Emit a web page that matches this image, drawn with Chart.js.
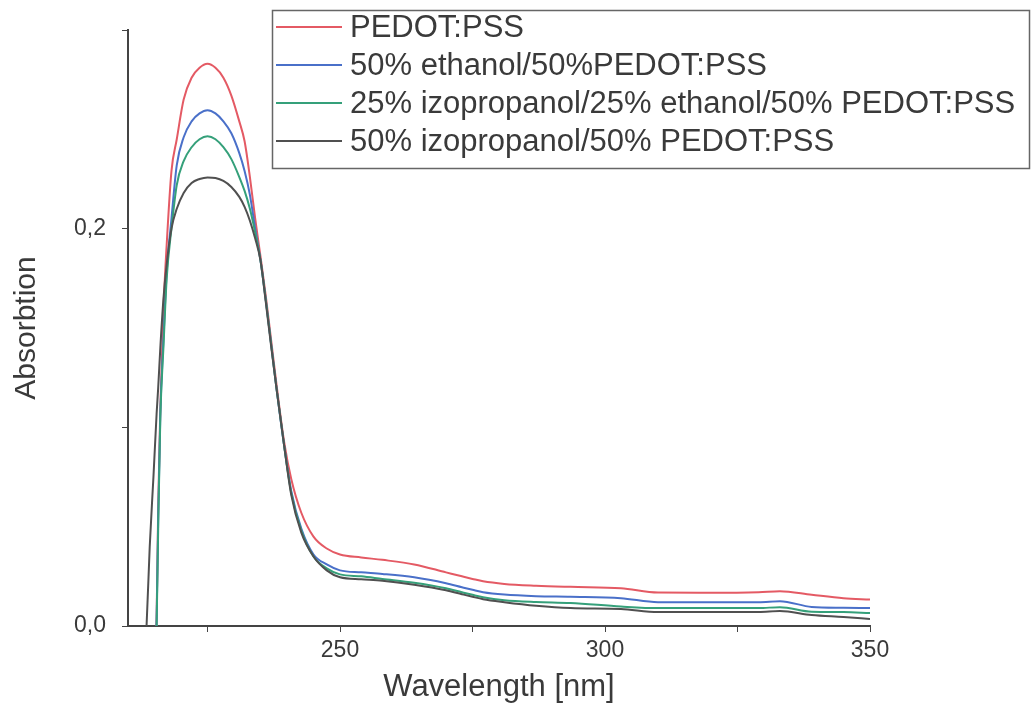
<!DOCTYPE html>
<html>
<head>
<meta charset="utf-8">
<title>Absorbtion spectra</title>
<script src="https://cdn.jsdelivr.net/npm/chart.js@4.4.1/dist/chart.umd.min.js"></script>
<style>
    html, body { margin: 0; padding: 0; background: #ffffff; }
    #wrap { width: 1033px; height: 720px; }
</style>
</head>
<body>
<div id="wrap"><canvas id="specChart"></canvas></div>
<script>
// 📊 Data
const wavelength = [212, 213.5, 214.1, 214.8, 215.4, 215.7, 216.1, 216.7, 217.3, 218.2,
    219.2, 220.5, 222, 223.5, 225, 226.5, 228, 229.5, 231, 232,
    233, 234, 235, 236, 237, 238, 239.5, 240.8, 242.7, 245,
    247.5, 250, 254, 258, 264, 270, 273, 275, 277, 281,
    287, 293.5, 303, 310, 320, 329, 333, 339, 345, 350];

const seriesNames = [
    "PEDOT:PSS",
    "50% ethanol/50%PEDOT:PSS",
    "25% izopropanol/25% ethanol/50% PEDOT:PSS",
    "50% izopropanol/50% PEDOT:PSS"
];

const pedotPss = [-0.3, -0.15, -0.1, -0.04, 0.005, 0.06, 0.11, 0.16, 0.192, 0.229,
    0.245, 0.265, 0.276, 0.281, 0.283, 0.281, 0.276, 0.267, 0.254, 0.244,
    0.226, 0.205, 0.186, 0.166, 0.144, 0.122, 0.092, 0.074, 0.057, 0.045,
    0.039, 0.036, 0.0345, 0.0333, 0.031, 0.027, 0.025, 0.0237, 0.0225, 0.0212,
    0.0203, 0.0197, 0.019, 0.0168, 0.0167, 0.017, 0.0175, 0.0157, 0.014, 0.0133];

const ethanol50 = [-0.3, -0.15, -0.1, -0.04, 0.003, 0.055, 0.107, 0.145, 0.178, 0.205,
    0.232, 0.246, 0.254, 0.258, 0.2596, 0.258, 0.254, 0.248, 0.238, 0.229,
    0.217, 0.2, 0.184, 0.164, 0.142, 0.12, 0.09, 0.068, 0.049, 0.036,
    0.031, 0.028, 0.027, 0.0262, 0.0245, 0.0215, 0.0195, 0.0182, 0.017, 0.0158,
    0.015, 0.0147, 0.014, 0.012, 0.012, 0.012, 0.0125, 0.0096, 0.0092, 0.009];

const mixed25 = [-0.3, -0.15, -0.1, -0.04, 0, 0.05, 0.105, 0.141, 0.175, 0.2,
    0.222, 0.234, 0.241, 0.245, 0.2465, 0.245, 0.241, 0.235, 0.226, 0.219,
    0.21, 0.198, 0.184, 0.164, 0.142, 0.12, 0.09, 0.067, 0.048, 0.035,
    0.029, 0.026, 0.025, 0.0237, 0.0218, 0.019, 0.017, 0.0157, 0.0145, 0.013,
    0.0121, 0.0116, 0.0098, 0.009, 0.009, 0.009, 0.0095, 0.0072, 0.007, 0.0065];

const izopropanol50 = [-0.06, 0, 0.04, 0.075, 0.107, 0.12, 0.14, 0.165, 0.182, 0.2,
    0.21, 0.218, 0.223, 0.225, 0.2258, 0.2255, 0.224, 0.221, 0.216, 0.211,
    0.204, 0.195, 0.184, 0.163, 0.141, 0.12, 0.09, 0.066, 0.047, 0.035,
    0.028, 0.0245, 0.0235, 0.0228, 0.0208, 0.018, 0.016, 0.0147, 0.0135, 0.012,
    0.0102, 0.009, 0.0085, 0.007, 0.007, 0.007, 0.0075, 0.0055, 0.0045, 0.0035];

const xTicks = [225, 250, 275, 300, 325, 350];
const xLabels = [250, 300, 350];
const yTicks = [0, 0.1, 0.2, 0.3];
const yLabels = [0, 0.2];

const lineColors = ["#e45a64", "#4a70c9", "#35a07a", "#505050"];

const FONT = "'Liberation Sans', Arial, sans-serif";
const TEXT = "#3a3a3a";

function toPoints(values) {
    return wavelength.map((x, i) => ({ x: x, y: values[i] }));
}

const allSeries = [pedotPss, ethanol50, mixed25, izopropanol50];

const datasets = allSeries.map((values, i) => ({
    label: seriesNames[i],
    data: toPoints(values),
    borderColor: lineColors[i],
    borderWidth: 2,
    pointRadius: 0,
    fill: false,
    cubicInterpolationMode: "monotone",
    order: allSeries.length - i
}));

// 🏷️ Boxed legend in the top right, like the original figure
const boxLegend = {
    id: "boxLegend",
    afterDraw(chart) {
        const ctx = chart.ctx;
        const left = 272, top = 10, width = 757, height = 158;
        const rowY = [27, 65, 103, 141];
        ctx.save();
        ctx.strokeStyle = "#666666";
        ctx.lineWidth = 1.5;
        ctx.strokeRect(left + 0.5, top + 0.5, width, height);
        ctx.font = "31px " + FONT;
        ctx.textBaseline = "middle";
        ctx.fillStyle = TEXT;
        chart.data.datasets.forEach((ds, i) => {
            ctx.strokeStyle = ds.borderColor;
            ctx.lineWidth = 2;
            ctx.beginPath();
            ctx.moveTo(left + 4, rowY[i]);
            ctx.lineTo(left + 70, rowY[i]);
            ctx.stroke();
            ctx.fillText(ds.label, left + 78, rowY[i] + 1);
        });
        ctx.restore();
    }
};

const ctx = document.getElementById("specChart").getContext("2d");

const specChart = new Chart(ctx, {
    type: "line",
    data: { datasets: datasets },
    options: {
        responsive: true,
        maintainAspectRatio: false,
        animation: false,
        layout: { padding: { top: 30, right: 163, left: 0, bottom: 0 } },
        plugins: {
            legend: { display: false },
            tooltip: { enabled: false }
        },
        scales: {
            x: {
                type: "linear",
                min: 210,
                max: 350,
                afterBuildTicks: scale => { scale.ticks = xTicks.map(v => ({ value: v })); },
                afterFit: scale => { scale.height = 94; },
                border: { display: true, color: "#444444", width: 2 },
                grid: { display: true, drawOnChartArea: false, drawTicks: true, tickLength: 6, color: "#444444" },
                ticks: {
                    autoSkip: false,
                    maxRotation: 0,
                    padding: 5,
                    color: TEXT,
                    font: { family: FONT, size: 23 },
                    callback: v => xLabels.includes(v) ? String(v) : ""
                },
                title: {
                    display: true,
                    text: "Wavelength [nm]",
                    color: TEXT,
                    font: { family: FONT, size: 31 },
                    padding: { top: 0, bottom: 14 }
                }
            },
            y: {
                type: "linear",
                min: 0,
                max: 0.3,
                afterBuildTicks: scale => { scale.ticks = yTicks.map(v => ({ value: v })); },
                afterFit: scale => { scale.width = 128; },
                border: { display: true, color: "#444444", width: 2 },
                grid: { display: true, drawOnChartArea: false, drawTicks: true, tickLength: 6, color: "#444444" },
                ticks: {
                    autoSkip: false,
                    padding: 16,
                    color: TEXT,
                    font: { family: FONT, size: 23 },
                    callback: v => yLabels.includes(v) ? v.toFixed(1).replace(".", ",") : ""
                },
                title: {
                    display: true,
                    text: "Absorbtion",
                    color: TEXT,
                    font: { family: FONT, size: 30 },
                    padding: { top: 9, bottom: 0 }
                }
            }
        }
    },
    plugins: [boxLegend]
});
</script>
</body>
</html>
